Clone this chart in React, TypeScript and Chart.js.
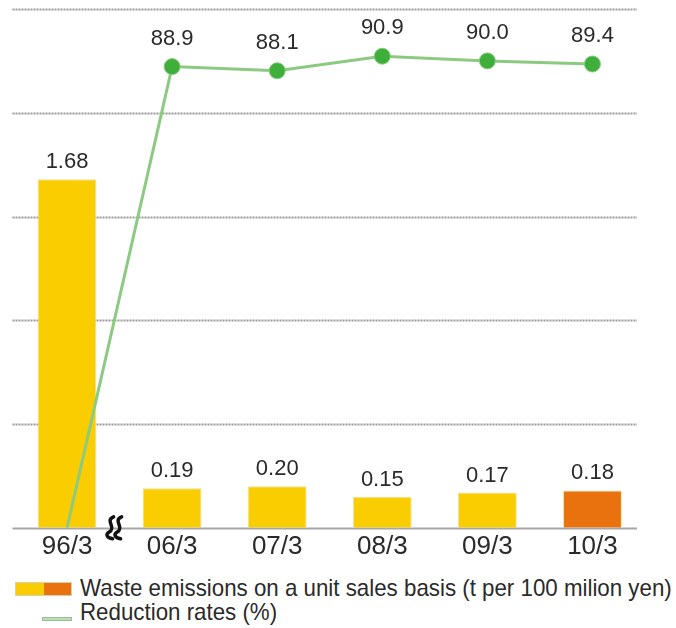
import React, { useEffect, useLayoutEffect, useRef } from "react";
import { Chart, registerables } from "chart.js";

Chart.register(...registerables);

const categories = ["96/3", "06/3", "07/3", "08/3", "09/3", "10/3"];
const emissions = [1.68, 0.19, 0.2, 0.15, 0.17, 0.18];
const reductionRates = [0, 88.9, 88.1, 90.9, 90.0, 89.4];
const showRateLabel = [false, true, true, true, true, true];
const yTicks = [0, 0.5, 1, 1.5, 2, 2.5];
const barColors = ["#F9CD00", "#F9CD00", "#F9CD00", "#F9CD00", "#F9CD00", "#E9720E"];
const legendBar = "Waste emissions on a unit sales basis (t per 100 milion yen)";
const legendLine = "Reduction rates (%)";

const NUM_FONT = "'Liberation Sans', Arial, sans-serif";
const TEXT_FONT = "'Liberation Sans', Arial, sans-serif";

const decorPlugin = {
  id: "decor",
  beforeDatasetsDraw(chart: any) {
    const { ctx, chartArea, scales } = chart;
    const y = scales.y;
    const x0 = chartArea.left - 2;
    const x1 = chartArea.right - 8;
    ctx.save();
    yTicks.forEach((v) => {
      const py = Math.round(y.getPixelForValue(v)) + 0.5;
      ctx.beginPath();
      if (v === 0) {
        ctx.setLineDash([]);
        ctx.strokeStyle = "#a8a8a8";
        ctx.lineWidth = 2;
      } else {
        ctx.setLineDash([2, 1]);
        ctx.strokeStyle = "#999";
        ctx.lineWidth = 2;
      }
      ctx.moveTo(x0, py);
      ctx.lineTo(x1, py);
      ctx.stroke();
    });
    ctx.restore();
  },
  afterDatasetsDraw(chart: any) {
    const { ctx, scales } = chart;
    const xs = scales.x;
    const y = scales.y;
    ctx.save();
    ctx.fillStyle = "#2a2a2a";
    ctx.font = `22px ${NUM_FONT}`;
    ctx.textAlign = "center";
    ctx.textBaseline = "alphabetic";
    const barMeta = chart.getDatasetMeta(0);
    barMeta.data.forEach((el: any, i: number) => {
      ctx.fillText(emissions[i].toFixed(2), el.x, el.y - 11);
    });
    const lineMeta = chart.getDatasetMeta(1);
    lineMeta.data.forEach((el: any, i: number) => {
      if (!showRateLabel[i]) return;
      ctx.fillText(reductionRates[i].toFixed(1), el.x, el.y - 22);
    });
    // axis break squiggle
    const mx = (xs.getPixelForValue(0) + xs.getPixelForValue(1)) / 2 - 5;
    const my = y.getPixelForValue(0);
    ctx.strokeStyle = "#111";
    ctx.lineWidth = 3.5;
    ctx.lineCap = "round";
    [-4, 4].forEach((dx) => {
      const cx = mx + dx;
      ctx.beginPath();
      ctx.moveTo(cx + 3, my - 11);
      ctx.bezierCurveTo(cx - 6, my - 7, cx + 6, my - 1, cx - 1, my + 4);
      ctx.bezierCurveTo(cx - 6, my + 7, cx - 3, my + 10, cx + 2, my + 11);
      ctx.stroke();
    });
    ctx.restore();
  },
};

export default function App() {
  const canvasRef = useRef<HTMLCanvasElement | null>(null);
  const leg1Ref = useRef<HTMLDivElement | null>(null);
  const leg2Ref = useRef<HTMLDivElement | null>(null);

  useLayoutEffect(() => {
    const a = leg1Ref.current;
    const b = leg2Ref.current;
    if (!a || !b) return;
    const w = a.scrollWidth;
    const s = w > 0 ? 592 / w : 1;
    a.style.transform = `scaleX(${s})`;
    b.style.transform = `scaleX(${s})`;
  }, []);

  useEffect(() => {
    if (!canvasRef.current) return;
    const chart = new Chart(canvasRef.current, {
      type: "bar",
      data: {
        labels: categories,
        datasets: [
          {
            type: "bar",
            label: legendBar,
            data: emissions,
            backgroundColor: barColors,
            borderColor: "rgba(235,225,170,1)",
            borderWidth: 1,
            categoryPercentage: 1,
            barPercentage: 0.56,
            yAxisID: "y",
            order: 2,
          },
          {
            type: "line",
            label: legendLine,
            data: reductionRates,
            borderColor: "#8cca82",
            borderWidth: 3,
            pointRadius: reductionRates.map((_, i) => (i === 0 ? 0 : 8)),
            pointBackgroundColor: "#3fae3a",
            pointBorderColor: "#86cc80",
            pointBorderWidth: 1,
            tension: 0,
            yAxisID: "y2",
            order: 1,
          } as any,
        ],
      },
      options: {
        responsive: false,
        animation: false,
        devicePixelRatio: 1,
        layout: { padding: { left: 14.5, right: 31, top: 7, bottom: 0 } },
        plugins: {
          legend: { display: false },
          tooltip: { enabled: false },
        },
        scales: {
          x: {
            grid: { display: false },
            border: { display: false },
            ticks: {
              color: "#2a2a2a",
              font: { family: NUM_FONT, size: 26 },
              padding: -5,
              maxRotation: 0,
            },
          },
          y: { display: false, min: 0, max: 2.5 },
          y2: { display: false, min: 0, max: 100 },
        },
      },
      plugins: [decorPlugin],
    });
    return () => chart.destroy();
  }, []);

  return (
    <div style={{ position: "absolute", left: 0, top: 0, width: 676, height: 628, background: "#fff", overflow: "hidden" }}>
      <canvas ref={canvasRef} width={676} height={557} style={{ position: "absolute", left: 0, top: 0 }} />
      <div style={{ position: "absolute", left: 15, top: 582, width: 57, height: 14, display: "flex", border: "1px solid #d8d0b0", boxSizing: "border-box" }}>
        <div style={{ flex: 1, background: "#F9CD00" }} />
        <div style={{ flex: 1, background: "#E9720E" }} />
      </div>
      <div ref={leg1Ref} style={{ position: "absolute", left: 80, top: 574, font: `24px ${TEXT_FONT}`, color: "#2a2a2a", whiteSpace: "nowrap", lineHeight: "28px", transformOrigin: "0 0" }}>
        {legendBar}
      </div>
      <div style={{ position: "absolute", left: 42, top: 617, width: 30, height: 4, background: "#b8e0b0", border: "1px solid #a0b8a0", boxSizing: "border-box" }} />
      <div ref={leg2Ref} style={{ position: "absolute", left: 80, top: 598, font: `24px ${TEXT_FONT}`, color: "#2a2a2a", whiteSpace: "nowrap", lineHeight: "28px", transformOrigin: "0 0" }}>
        {legendLine}
      </div>
    </div>
  );
}
